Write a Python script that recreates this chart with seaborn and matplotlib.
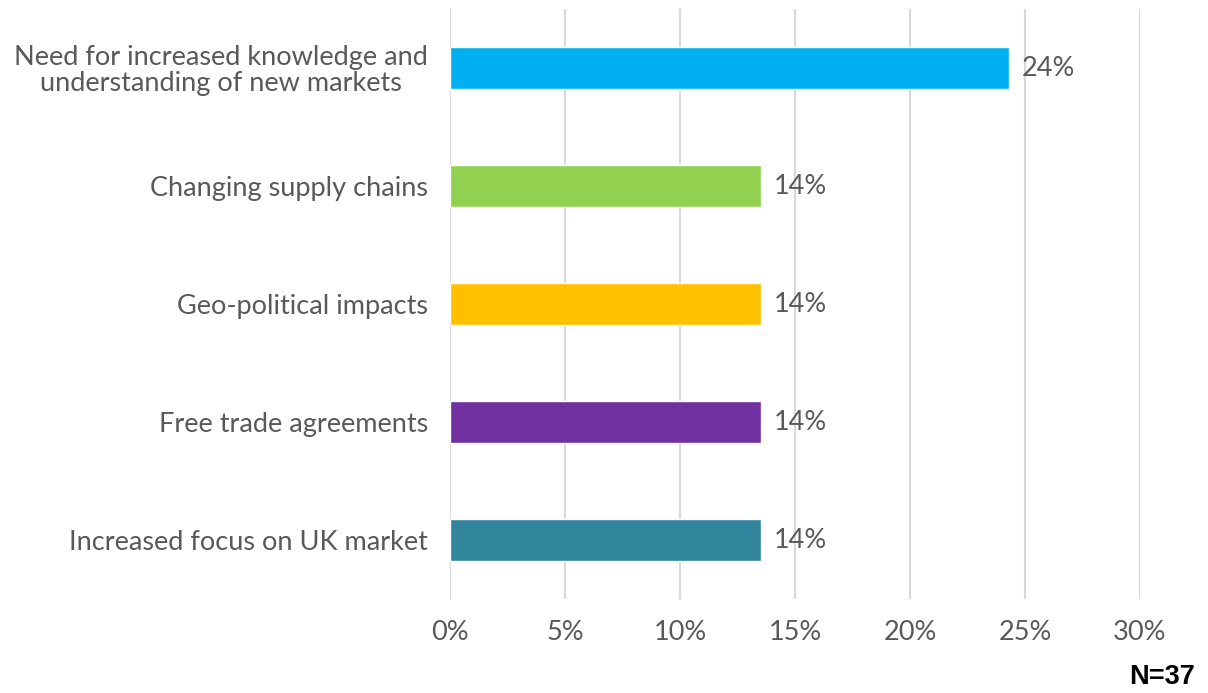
import matplotlib
matplotlib.use("Agg")
import matplotlib.pyplot as plt
import seaborn as sns
import pandas as pd

categories = [
    "Need for increased knowledge and\nunderstanding of new markets",
    "Changing supply chains",
    "Geo-political impacts",
    "Free trade agreements",
    "Increased focus on UK market",
]
shares = [9 / 37, 5 / 37, 5 / 37, 5 / 37, 5 / 37]
value_labels = ["24%", "14%", "14%", "14%", "14%"]
colors = ["#00B0F0", "#92D050", "#FFC000", "#7030A0", "#31859C"]
x_ticks = [0, 0.05, 0.10, 0.15, 0.20, 0.25, 0.30]
x_tick_labels = ["0%", "5%", "10%", "15%", "20%", "25%", "30%"]
sample_note = "N=37"

df = pd.DataFrame({"category": categories, "share": shares})

sns.set_theme(style="white")
plt.rcParams["font.family"] = ["Lato", "DejaVu Sans"]
text_color = "#595959"
fs = 19.5

fig = plt.figure(figsize=(12.08, 6.93), dpi=100)
ax = fig.add_axes([450 / 1208, 1 - 599 / 693, 690 / 1208, 590 / 693])

sns.barplot(data=df, x="share", y="category", hue="category",
            palette=colors, order=categories, width=0.36,
            legend=False, ax=ax, saturation=1)

ax.set_xlim(0, 0.30)
ax.set_xticks(x_ticks)
ax.set_xticklabels(x_tick_labels, fontsize=fs, color=text_color)
ax.tick_params(axis="y", labelsize=fs, labelcolor=text_color, length=0, pad=16)
ax.tick_params(axis="x", length=0, pad=15)
for t in ax.get_yticklabels():
    t.set_linespacing(1.0)
    t.set_multialignment("center")
ax.set_xlabel("")
ax.set_ylabel("")
for s in ax.spines.values():
    s.set_visible(False)
ax.grid(axis="x", color="#D9D9D9", linewidth=1.5)
ax.set_axisbelow(True)

for i, (v, lab) in enumerate(zip(shares, value_labels)):
    ax.text(v + 0.0055, i, lab, va="center", ha="left",
            fontsize=fs, color=text_color)

fig.text(1195 / 1208, 1 - 677 / 693, sample_note, ha="right", va="center",
         fontsize=19.5, fontweight="bold", color="black",
         family=["Liberation Sans", "DejaVu Sans"])

fig.savefig("out.png", dpi=100)
